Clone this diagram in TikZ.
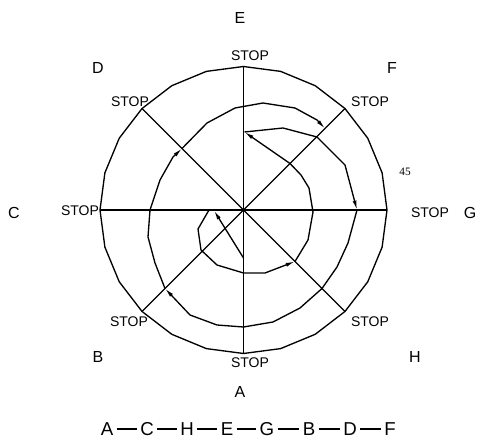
\documentclass[tikz,border=0pt]{standalone}
\usepackage{fontspec}
\setmainfont{Liberation Sans}
\newfontfamily\numfont{Liberation Serif}
\usetikzlibrary{arrows.meta}
\begin{document}
\begin{tikzpicture}[x=0.75pt,y=-0.75pt,line width=1pt,line join=round,
  tip/.style={-{Latex[length=7pt,width=3pt]}},
  stoplabel/.style={font=\fontsize{10.5}{12}\selectfont,inner sep=0pt},
  dirlabel/.style={font=\fontsize{12}{14}\selectfont,inner sep=0pt},
  seqletter/.style={font=\fontsize{14}{16}\selectfont,inner sep=2pt}]
\useasboundingbox (0,0) rectangle (478,441);
\coordinate (O) at (243.5,210);
% outer ring and spokes
\begin{scope}[shift={(O)}]
\draw (0:143.5) \foreach \a in {15,30,...,345} { -- (\a:143.5) } -- cycle;
\foreach \a in {0,45,...,315} \draw (0,0) -- (\a:143.5);
\end{scope}
% route
\draw[tip] (243.5,258) -- (214,210.5);
\draw[tip] (209,210) -- (198,229) -- (201,250) -- (217,265) -- (243.5,273) -- (265,273) -- (295,261.5);
\draw[tip] (295,261.5) -- (308,240) -- (313,212) -- (309,188) -- (301,175) -- (290,163.5) -- (244.5,132);
\draw[tip] (244.5,132) -- (283,128) -- (317,137) -- (345,165) -- (357,210);
\draw[tip] (357,210) -- (348,243) -- (337,267) -- (322,288.5) -- (300,308) -- (273,322) -- (243.5,327) -- (217,325) -- (190,315) -- (165,288.5);
\draw[tip] (165,288.5) -- (155,263) -- (148,237) -- (150,210) -- (160,180) -- (173,157) -- (182,148.5);
\draw[tip] (182,148.5) -- (207,123) -- (235,108) -- (263,103) -- (295,108) -- (317,120) -- (325,128.5);
% stops
\node[stoplabel] (stopE) at (250,56) {STOP};
\node[stoplabel] (stopA) at (250,363) {STOP};
\node[stoplabel] (stopD) at (130,102) {STOP};
\node[stoplabel] (stopF) at (370,102) {STOP};
\node[stoplabel] (stopB) at (129,322) {STOP};
\node[stoplabel] (stopH) at (370,322) {STOP};
\node[stoplabel] (stopC) at (80,211) {STOP};
\node[stoplabel] (stopG) at (430,213) {STOP};
\node[font=\numfont\fontsize{8.5}{9}\selectfont,inner sep=0pt] (deg) at (405,172) {45};
% directions
\node[dirlabel] (labE) at (240,18) {E};
\node[dirlabel] (labD) at (98,68) {D};
\node[dirlabel] (labF) at (392,68) {F};
\node[dirlabel] (labC) at (14,213) {C};
\node[dirlabel] (labG) at (470,213) {G};
\node[dirlabel] (labB) at (98,357) {B};
\node[dirlabel] (labH) at (415,357) {H};
\node[dirlabel] (labA) at (240,392) {A};
% sequence
\foreach \n/\x in {A/107,C/147,H/187,E/227,G/267,B/309,D/350,F/390}
  \node[seqletter] (s\n) at (\x,429) {\n};
\foreach \p/\q in {A/C,C/H,H/E,E/G,G/B,B/D,D/F}
  \draw[line width=0.8pt] (s\p) -- (s\q);
\end{tikzpicture}
\end{document}
